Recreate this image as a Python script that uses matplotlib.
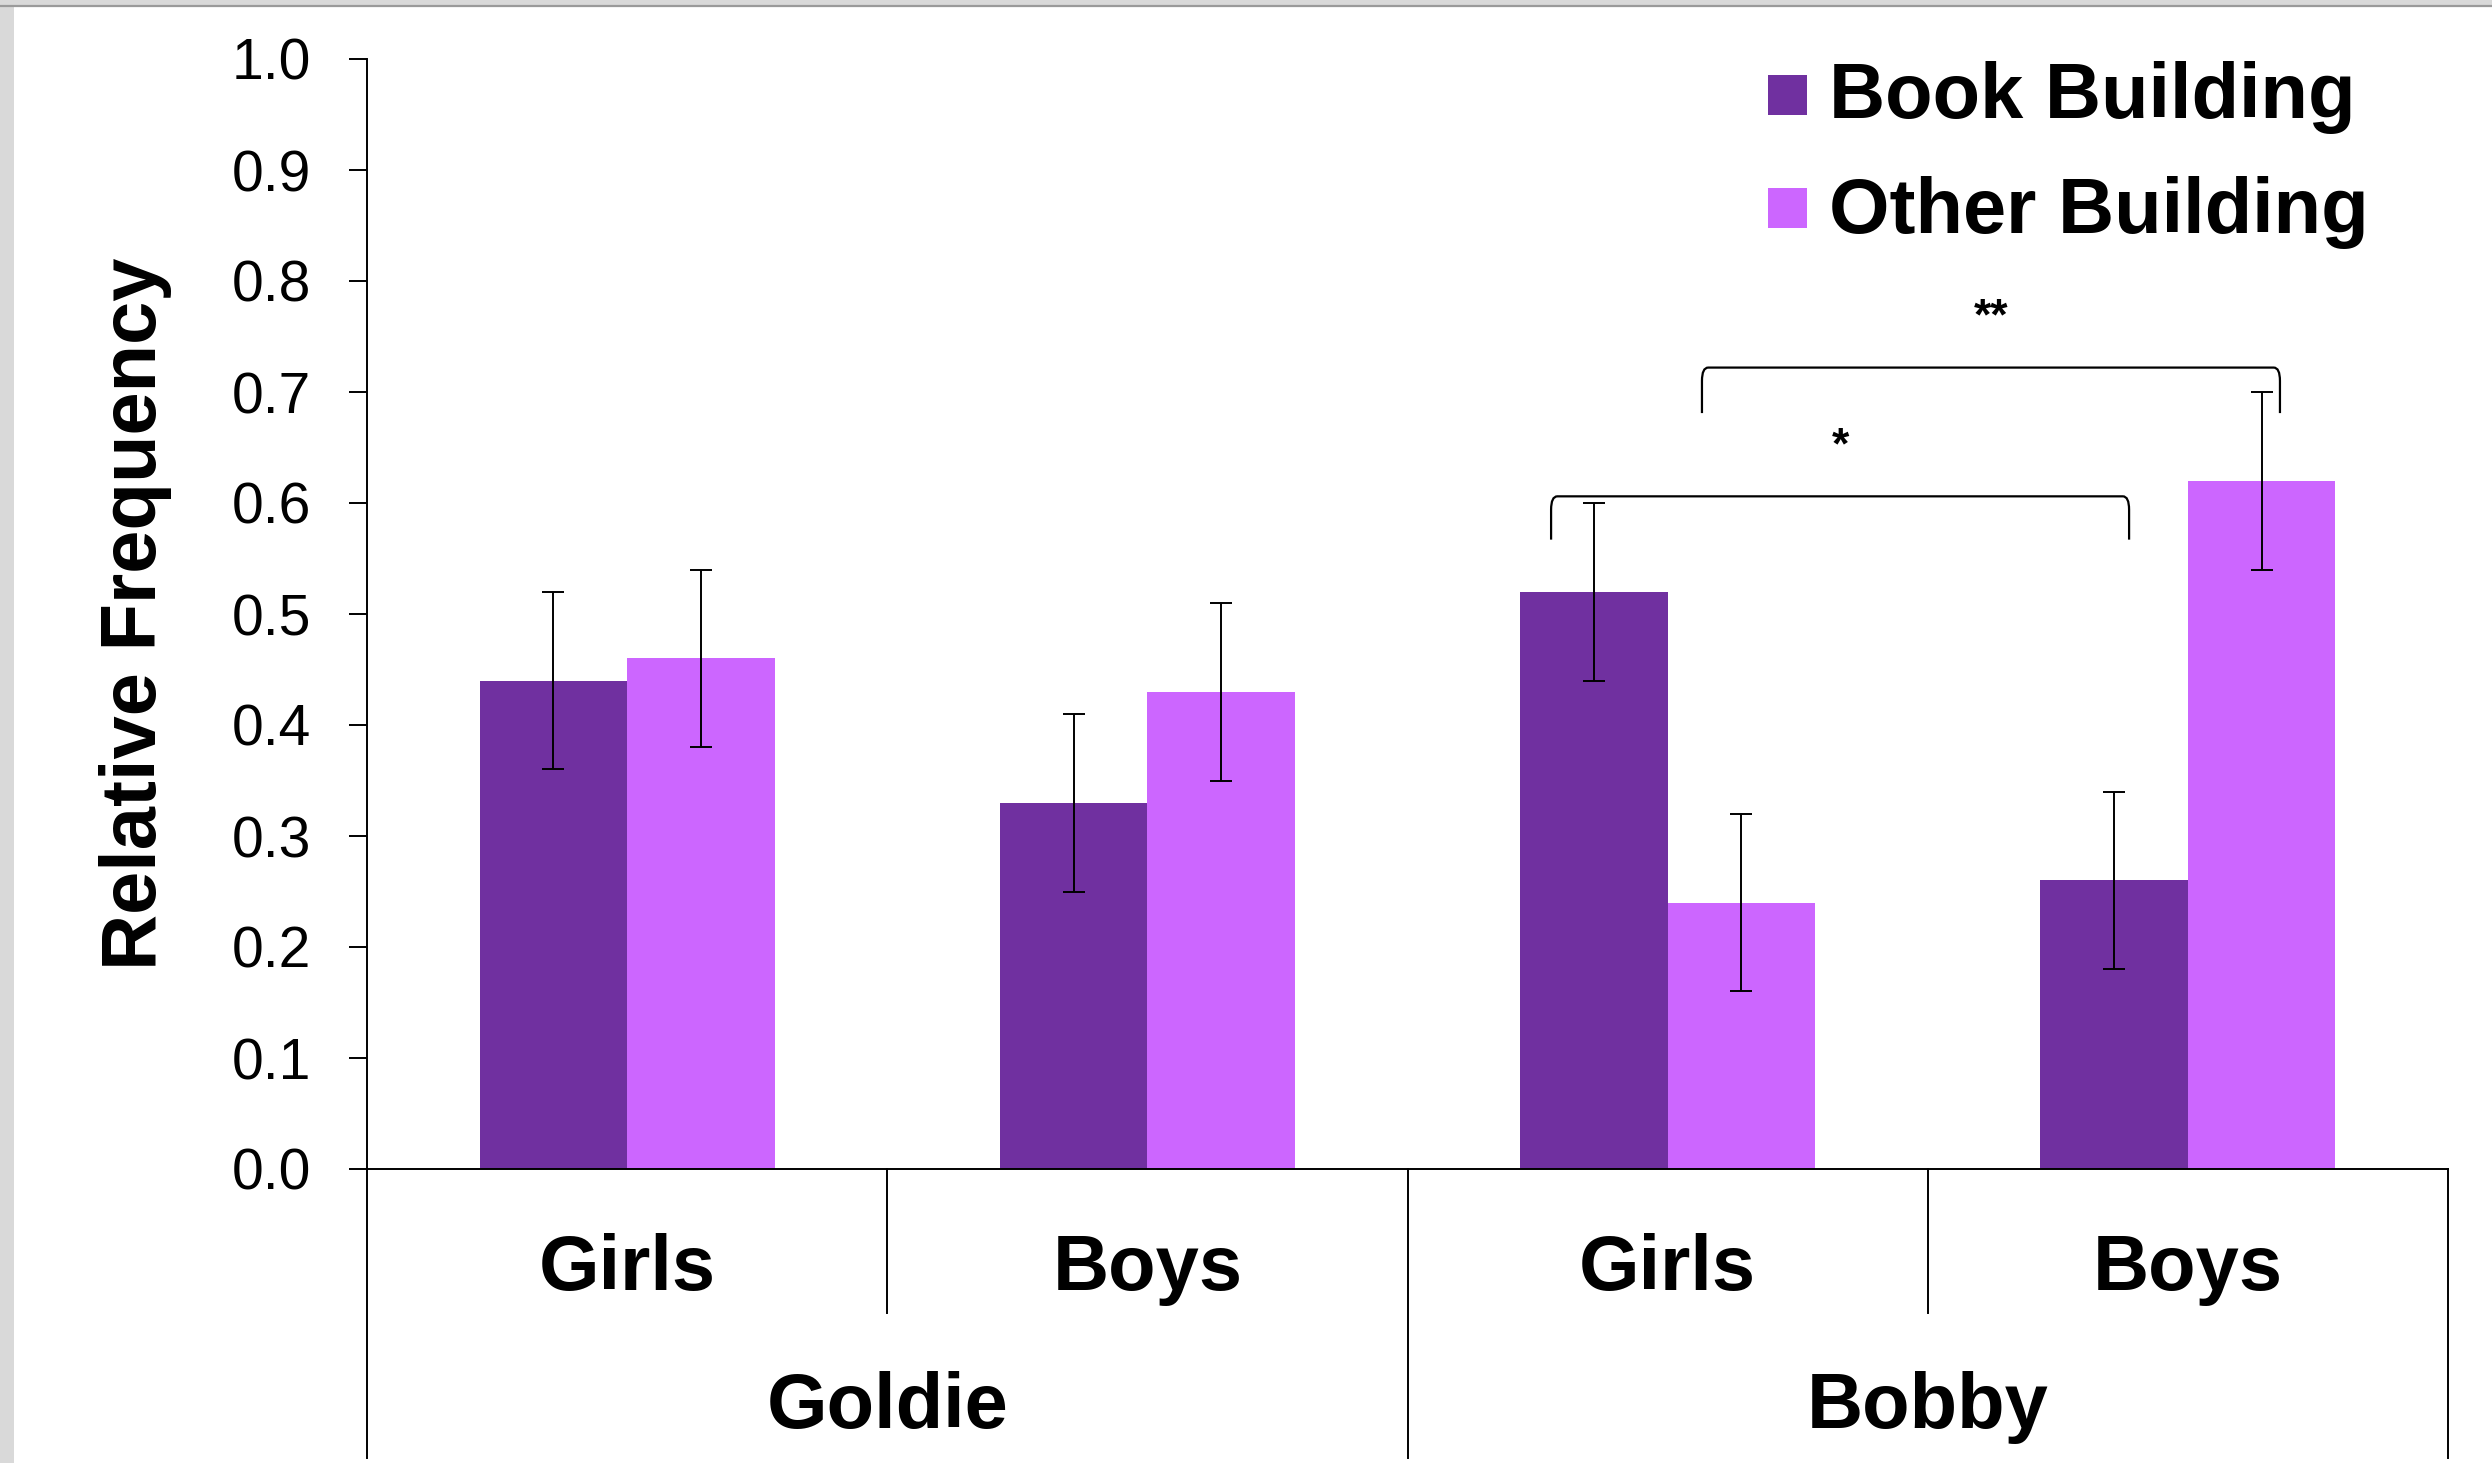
import matplotlib
matplotlib.use("Agg")
import matplotlib.pyplot as plt
import matplotlib.transforms as mtransforms
from matplotlib.patches import Rectangle, PathPatch
from matplotlib.path import Path
import numpy as np

plt.rcParams['font.family'] = ['Liberation Sans', 'DejaVu Sans']

# ---- data ----
groups = ["Goldie", "Bobby"]
subgroups = ["Girls", "Boys", "Girls", "Boys"]
series_names = ["Book Building", "Other Building"]
book = [0.44, 0.33, 0.52, 0.26]
other = [0.46, 0.43, 0.24, 0.62]
book_err = [0.08, 0.08, 0.08, 0.08]
other_err = [0.08, 0.08, 0.08, 0.08]
y_ticks = [0.0, 0.1, 0.2, 0.3, 0.4, 0.5, 0.6, 0.7, 0.8, 0.9, 1.0]
y_tick_labels = ["0.0", "0.1", "0.2", "0.3", "0.4", "0.5", "0.6", "0.7", "0.8", "0.9", "1.0"]
# significance brackets: (x left, x right, top, leg bottom, label, label baseline)
brackets = [
    (1.776, 2.887, 0.606, 0.567, "*", 0.640),
    (2.066, 3.177, 0.722, 0.681, "**", 0.756),
]

book_color = "#7030A0"
other_color = "#CC66FF"

W, H = 2492, 1463
fig = plt.figure(figsize=(W / 100, H / 100), dpi=100)
fig.patch.set_facecolor("white")


def fpx(x, y):
    return x / W, 1 - y / H


# window-like frame on the left and top
fig.patches.append(Rectangle((0, 0), 14 / W, 1, transform=fig.transFigure,
                             facecolor="#D9D9D9", edgecolor="none", zorder=0))
fig.patches.append(Rectangle(fpx(0, 5), 1, 5 / H, transform=fig.transFigure,
                             facecolor="#D9D9D9", edgecolor="none", zorder=0))
fig.lines.append(plt.Line2D([0, 1], [1 - 6 / H, 1 - 6 / H], transform=fig.transFigure,
                            color="#9A9A9A", lw=1.6))

ax = fig.add_axes([367 / W, 1 - 1169 / H, (2448 - 367) / W, (1169 - 59) / H])

x = np.arange(len(subgroups))
w = 0.2836
ax.bar(x - w / 2, book, w, color=book_color, zorder=2)
ax.bar(x + w / 2, other, w, color=other_color, zorder=2)
ax.errorbar(x - w / 2, book, yerr=book_err, fmt="none", ecolor="black",
            elinewidth=1.4, capsize=8, capthick=1.4, zorder=3)
ax.errorbar(x + w / 2, other, yerr=other_err, fmt="none", ecolor="black",
            elinewidth=1.4, capsize=8, capthick=1.4, zorder=3)

ax.set_xlim(-0.5, len(subgroups) - 0.5)
ax.set_ylim(0, 1.0)
ax.set_yticks(y_ticks)
ax.set_yticklabels(y_tick_labels)
ax.tick_params(axis="y", direction="out", length=13, width=1.4, labelsize=41, pad=27)
ax.set_xticks([])
for s in ["top", "right"]:
    ax.spines[s].set_visible(False)
for s in ["left", "bottom"]:
    ax.spines[s].set_linewidth(1.4)

ax.set_ylabel("Relative Frequency", fontsize=56, fontweight="bold")
ax.yaxis.set_label_coords(-195 / (2448 - 367), 0.5)

# category axis: separators and labels below the plot
trans = mtransforms.blended_transform_factory(ax.transData, ax.transAxes)
inner_bottom = -(1313 - 1169) / 1110
outer_bottom = -(1458 - 1169) / 1110
for xb in [-0.5, 1.5, 3.5]:
    ax.plot([xb, xb], [0, outer_bottom], transform=trans, color="black",
            lw=1.4, clip_on=False)
for xb in [0.5, 2.5]:
    ax.plot([xb, xb], [0, inner_bottom], transform=trans, color="black",
            lw=1.4, clip_on=False)

sub_base = -(1290 - 1169) / 1110
grp_base = -(1428 - 1169) / 1110
for xi, lab in zip(x, subgroups):
    ax.text(xi, sub_base, lab, transform=trans, ha="center", va="baseline",
            fontsize=56, fontweight="bold")
for gi, lab in enumerate(groups):
    ax.text(2 * gi + 0.5, grp_base, lab, transform=trans, ha="center",
            va="baseline", fontsize=56, fontweight="bold")

# significance brackets with rounded corners
for x0, x1, yt, yb, lab, ylab in brackets:
    dx, dy = 0.012, 0.012
    verts = [(x0, yb), (x0, yt - dy), (x0, yt), (x0 + dx, yt),
             (x1 - dx, yt), (x1, yt), (x1, yt - dy), (x1, yb)]
    codes = [Path.MOVETO, Path.LINETO, Path.CURVE3, Path.CURVE3,
             Path.LINETO, Path.CURVE3, Path.CURVE3, Path.LINETO]
    ax.add_patch(PathPatch(Path(verts, codes), facecolor="none",
                           edgecolor="black", lw=1.6, zorder=4, clip_on=False))
    ax.text((x0 + x1) / 2, ylab, lab, ha="center", va="baseline",
            fontsize=32, fontweight="bold")

# legend
legend_rows = [(series_names[0], book_color, 75, 118),
               (series_names[1], other_color, 188, 233)]
for name, col, sq_top, base in legend_rows:
    fig.patches.append(Rectangle(fpx(1768, sq_top + 40), 39 / W, 40 / H,
                                 transform=fig.transFigure, facecolor=col,
                                 edgecolor="none"))
    fig.text(*fpx(1829, base), name, fontsize=56, fontweight="bold",
             ha="left", va="baseline")

fig.savefig("out.png", dpi=100)
